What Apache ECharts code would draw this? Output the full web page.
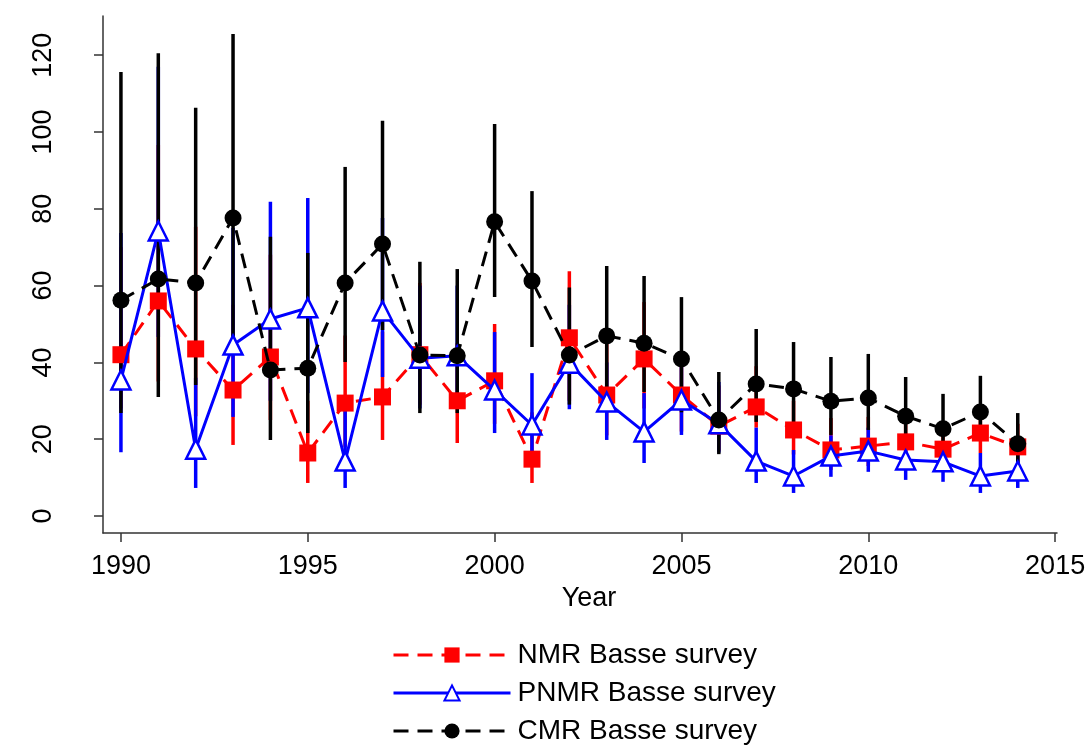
<!DOCTYPE html>
<html>
<head>
<meta charset="utf-8">
<script src="https://cdn.jsdelivr.net/npm/echarts@6/dist/echarts.min.js"></script>
<style>html,body{margin:0;padding:0;background:#fff;}#c{width:1090px;height:749px;}</style>
</head>
<body>
<div id="c"></div>
<script>
var years = [1990,1991,1992,1993,1994,1995,1996,1997,1998,1999,2000,2001,2002,2003,2004,2005,2006,2007,2008,2009,2010,2011,2012,2013,2014];
var xTicks = [1990,1995,2000,2005,2010,2015];
var yTicks = [0,20,40,60,80,100,120];

var nmr   = [42, 56, 43.5, 32.8, 41.4, 16.4, 29.4, 31, 42, 30, 35.2, 14.8, 46.4, 31.5, 40.9, 31.5, 23.4, 28.4, 22.4, 17.2, 18.2, 19.3, 17.4, 21.6, 18];
var nmrLo = [28, 35, 26, 18.5, 25, 8.6, 18, 19.8, 29, 19, 24, 8.6, 30, 21, 28, 22, 17, 23, 16, 12, 13, 14, 12, 16.4, 12];
var nmrHi = [70, 96.6, 75.3, 55, 68, 30, 47, 48, 60.7, 45, 50, 27, 63.7, 45, 55.7, 42, 34, 39, 30, 25.5, 25.8, 25, 24, 29, 24];

var pnmr   = [35.4, 74.2, 17.4, 44.5, 51.3, 54.2, 14.3, 53.4, 41.1, 41.7, 32.8, 23.7, 39.8, 29.7, 21.9, 30.2, 24, 14.3, 10.4, 15.6, 16.9, 14.6, 14.1, 10.4, 11.7];
var pnmrLo = [16.6, 46.6, 7.3, 25.8, 30, 32, 7.3, 36.2, 28, 28, 21.6, 15, 27.8, 19.8, 13.8, 21.1, 16.5, 8.6, 6, 10.2, 11.5, 9.4, 8.9, 6, 7.3];
var pnmrHi = [73.7, 117, 36, 75, 81.8, 82.8, 30.2, 77.6, 60, 60, 47.9, 37.2, 55, 40, 32, 40, 34.9, 23, 17.2, 21, 23, 20, 19, 16.4, 16];

var cmr   = [56.2, 61.7, 60.7, 77.6, 38, 38.5, 60.7, 70.8, 41.9, 41.7, 76.6, 61.2, 41.9, 46.9, 45, 40.9, 25, 34.4, 33.1, 29.9, 30.7, 26, 22.7, 27.1, 18.8];
var cmrLo = [26.8, 31, 34.1, 46.6, 19.8, 21.6, 40.1, 48.4, 26.8, 26.8, 57, 44, 29, 33, 32.3, 27, 16.1, 24.5, 24.2, 21.1, 22.4, 18.2, 18, 23.2, 13.8];
var cmrHi = [115.6, 120.5, 106.3, 125.5, 72.7, 68.5, 90.9, 102.9, 66.2, 64.3, 102.1, 84.6, 59.5, 65.1, 62.5, 57, 37.5, 48.7, 45.3, 41.4, 42.2, 36.2, 31.8, 36.5, 26.8];

var FONT = '"Liberation Sans", Arial, Helvetica, sans-serif';

function pairs(v){ return years.map(function(y,i){ return [y, v[i]]; }); }
function bars(lo, hi){ return years.map(function(y,i){ return [y, lo[i], hi[i]]; }); }

function barSeries(name, lo, hi, color, z){
  return {
    type: 'custom',
    name: name + ' CI',
    z: z,
    silent: true,
    data: bars(lo, hi),
    encode: {x: 0, y: [1, 2]},
    renderItem: function(params, api){
      var a = api.coord([api.value(0), api.value(1)]);
      var b = api.coord([api.value(0), api.value(2)]);
      return {
        type: 'line',
        shape: {x1: a[0], y1: a[1], x2: b[0], y2: b[1]},
        style: {stroke: color, lineWidth: 3.5}
      };
    }
  };
}

var chart = echarts.init(document.getElementById('c'), null, {renderer: 'canvas'});
chart.setOption({
  animation: false,
  backgroundColor: '#fff',
  grid: {left: 103, top: 16, width: 954, height: 517, containLabel: false},
  xAxis: {
    type: 'value',
    min: 1989.52, max: 2015.05,
    name: 'Year',
    nameLocation: 'middle',
    nameGap: 50,
    nameTextStyle: {fontFamily: FONT, fontSize: 27, color: '#000', padding: [0,0,0,18]},
    splitLine: {show: false},
    axisLine: {show: true, onZero: false, lineStyle: {color: '#333', width: 1.5}},
    axisTick: {show: true, length: 9, customValues: xTicks, lineStyle: {color: '#333', width: 1.5}},
    axisLabel: {customValues: xTicks, formatter: function(v){ return String(v); }, fontFamily: FONT, fontSize: 27, color: '#000', margin: 20}
  },
  yAxis: {
    type: 'value',
    min: -4.43, max: 130.2,
    splitLine: {show: false},
    axisLine: {show: true, onZero: false, lineStyle: {color: '#333', width: 1.5}},
    axisTick: {show: true, length: 9, customValues: yTicks, lineStyle: {color: '#333', width: 1.5}},
    axisLabel: {customValues: yTicks, formatter: function(v){ return String(v); }, rotate: 90, fontFamily: FONT, fontSize: 27, color: '#000', margin: 46}
  },
  legend: {
    orient: 'vertical',
    left: 392, top: 641,
    padding: 0,
    height: 130,
    itemWidth: 117, itemHeight: 19,
    itemGap: 10,
    lineStyle: {width: 3},
    textStyle: {fontFamily: FONT, fontSize: 28, color: '#000', padding: [0,0,0,2]},
    data: ['NMR Basse survey', 'PNMR Basse survey', 'CMR Basse survey']
  },
  series: [
    barSeries('NMR', nmrLo, nmrHi, '#ff0000', 1),
    barSeries('PNMR', pnmrLo, pnmrHi, '#0000ff', 2),
    barSeries('CMR', cmrLo, cmrHi, '#000000', 3),
    {
      type: 'line', name: 'NMR Basse survey', z: 4,
      data: pairs(nmr),
      symbol: 'rect', symbolSize: 17,
      lineStyle: {color: '#ff0000', width: 3, type: [15, 9]},
      itemStyle: {color: '#ff0000'}
    },
    {
      type: 'line', name: 'PNMR Basse survey', z: 5,
      data: pairs(pnmr),
      symbol: 'triangle', symbolSize: 19,
      lineStyle: {color: '#0000ff', width: 3, type: 'solid'},
      itemStyle: {color: '#ffffff', borderColor: '#0000ff', borderWidth: 2.5}
    },
    {
      type: 'line', name: 'CMR Basse survey', z: 6,
      data: pairs(cmr),
      symbol: 'circle', symbolSize: 17,
      lineStyle: {color: '#000000', width: 3, type: [15, 9]},
      itemStyle: {color: '#000000'}
    }
  ]
});
</script>
</body>
</html>
